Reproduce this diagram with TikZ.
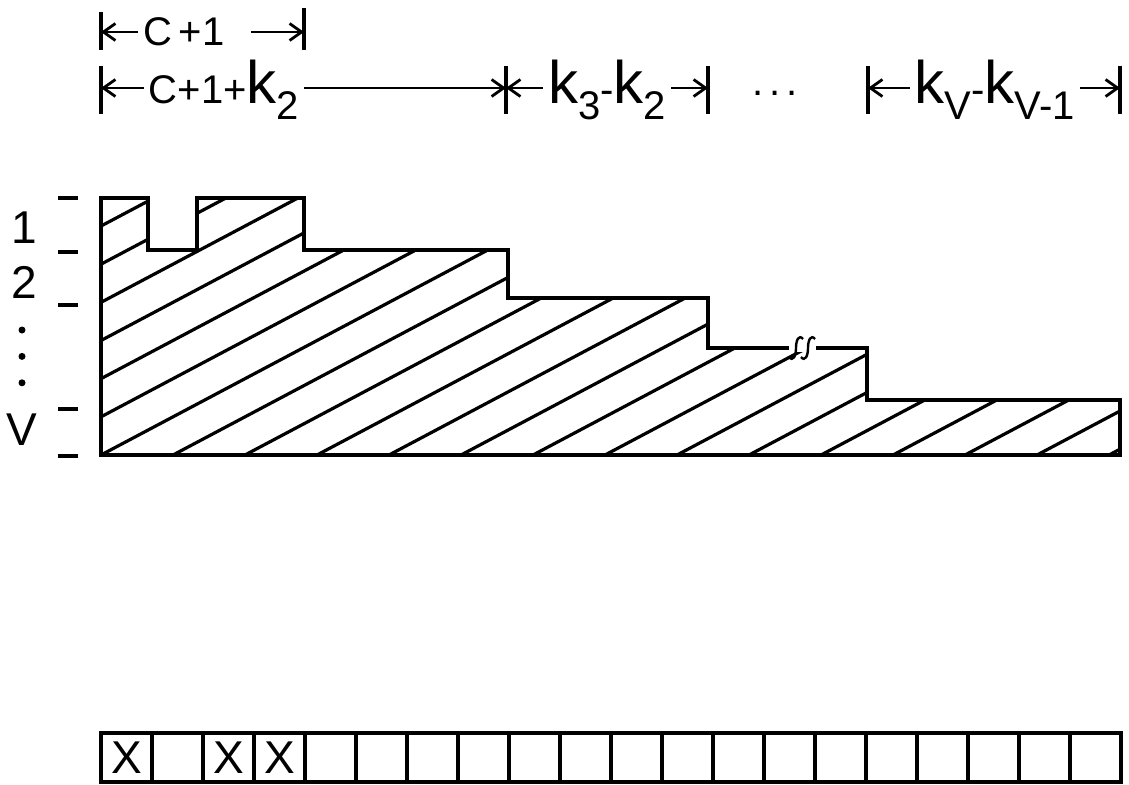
\documentclass[tikz,border=0pt]{standalone}
\usepackage{fontspec}
\setmainfont{Liberation Sans}
\usetikzlibrary{positioning, arrows.meta, calc}

% staircase outline of the shaded block
\newcommand{\staircase}{(101,455) -- (101,198) -- (148,198) -- (148,250) -- (197,250) -- (197,198) -- (304,198) -- (304,250) -- (508,250) -- (508,298) -- (708,298) -- (708,348) -- (867,348) -- (867,400) -- (1120,400) -- (1120,455) -- cycle}
% big k with a lowered index
\newcommand{\kk}[1]{{\fontsize{60}{60}\selectfont k}\raisebox{-16pt}{#1}}

\begin{document}
\begin{tikzpicture}[
	x=1pt, y=-1pt,
	>={Straight Barb[length=12pt,width=17pt]},
	% styles
	outline/.style={line width=4pt, line join=miter},
	hatch_line/.style={line width=3.2pt},
	dim_arrow/.style={->, line width=2.8pt, shorten <=5pt},
	dim_tick/.style={line width=3.2pt},
	dim_text/.style={font=\fontsize{40}{42}\selectfont, inner sep=0pt, anchor=base},
	row_label/.style={font=\fontsize{46}{48}\selectfont, inner sep=0pt},
	row_dot/.style={circle, fill=black, inner sep=0pt, minimum size=7pt},
	cell_box/.style={draw, line width=3.5pt, minimum width=51pt, minimum height=49pt, inner sep=0pt},
	cell_mark/.style={font=\fontsize{46}{48}\selectfont, inner sep=0pt}
	]
	\useasboundingbox (0,0) rectangle (1129,784);
	
	% --- 1. DIMENSIONS (top) ---
	\coordinate (r1a) at (101,32);
	\coordinate (r1b) at (304,32);
	\draw[dim_tick] ([yshift=20pt]r1a) -- ([yshift=-18pt]r1a);
	\draw[dim_tick] ([yshift=24pt]r1b) -- ([yshift=-18pt]r1b);
	\node[dim_text] (c1) at (184,46) {C\,+1};
	\draw[dim_arrow] (c1.west |- r1a) -- (r1a);
	\draw[dim_arrow, shorten <=26pt] (c1.east |- r1b) -- (r1b);
	
	\coordinate (r2a) at (101,88);
	\coordinate (r2b) at (506,88);
	\coordinate (r2c) at (708,88);
	\coordinate (r2d) at (868,88);
	\coordinate (r2e) at (1120,88);
	\foreach \t in {r2a,r2b,r2c,r2d,r2e}
		\draw[dim_tick] ([yshift=22pt]\t) -- ([yshift=-26pt]\t);
	
	\node[dim_text] (c2) at (224,103) {C+1+\kk{2}};
	\draw[dim_arrow] (c2.west |- r2a) -- (r2a);
	\draw[dim_arrow] (c2.east |- r2b) -- (r2b);
	
	\node[dim_text] (d3) at (607,103) {\kk{3}-\kk{2}};
	\draw[dim_arrow] (d3.west |- r2b) -- (r2b);
	\draw[dim_arrow] (d3.east |- r2c) -- (r2c);
	
	\node[dim_text] (gap) at (775,95) {.\hspace{6pt}.\hspace{6pt}.};
	
	\node[dim_text] (dv) at (995,103) {\kk{V}-\kk{V-1}};
	\draw[dim_arrow] (dv.west |- r2d) -- (r2d);
	\draw[dim_arrow] (dv.east |- r2e) -- (r2e);
	
	% --- 2. ROW LABELS ---
	\foreach \y in {198,252,305,409,456}
		\draw[dim_tick] (58,\y) -- (78,\y);
	\node[row_label] (lab1) at (24,228) {1};
	\node[row_label] (lab2) at (24,282) {2};
	\node[row_dot] (dot1) at (22,330) {};
	\node[row_dot, below=19pt of dot1] (dot2) {};
	\node[row_dot, below=19pt of dot2] (dot3) {};
	\node[row_label] (labv) at (22,430) {V};
	
	% --- 3. SHADED STAIRCASE ---
	\begin{scope}
		\clip \staircase;
		\foreach \i in {-6,...,14}
			\draw[hatch_line] ({101+72*\i},455) -- ++(900,-477);
	\end{scope}
	\draw[outline] \staircase;
	
	% break mark
	\fill[white] (789,344) rectangle (816,352);
	\draw[line width=2.4pt] (789,357) .. controls (793,362) and (796,356) .. (796,348) .. controls (796,340) and (799,334) .. (803,339);
	\draw[line width=2.4pt] (801,357) .. controls (805,362) and (808,356) .. (808,348) .. controls (808,340) and (811,334) .. (815,339);
	
	% --- 4. CELL STRIP ---
	\foreach \i in {0,...,19}
		\node[cell_box] (cell\i) at ({126.5+51*\i},757.5) {};
	\node[cell_mark] (x1) at (cell0) {X};
	\node[cell_mark] (x2) at (cell2) {X};
	\node[cell_mark] (x3) at (cell3) {X};
	
\end{tikzpicture}
\end{document}
